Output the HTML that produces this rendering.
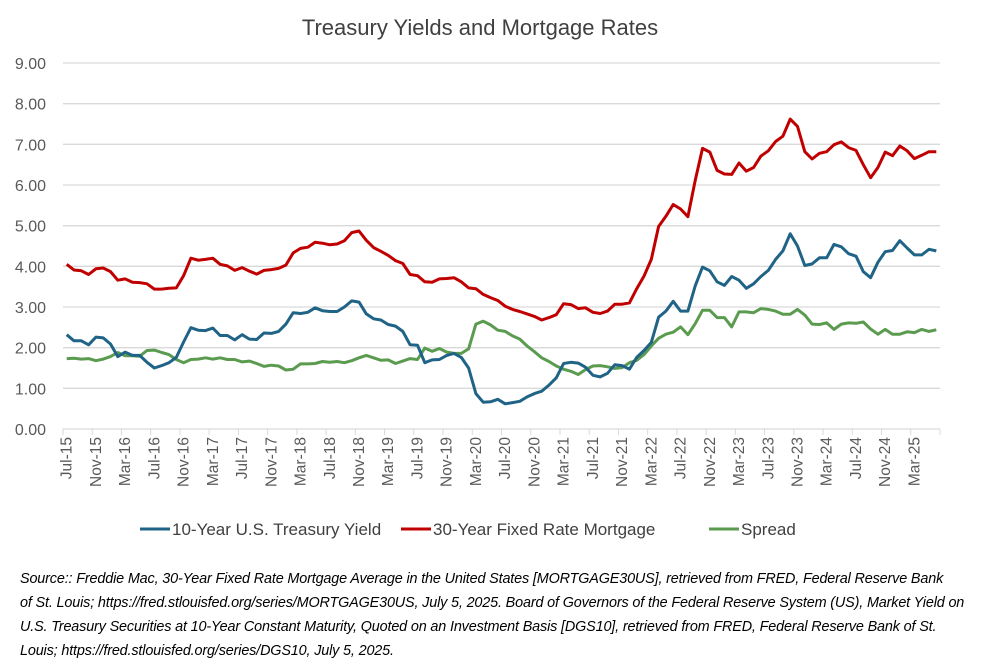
<!DOCTYPE html>
<html><head><meta charset="utf-8">
<style>
body{margin:0;background:#fff;font-family:"Liberation Sans",sans-serif;}
#wrap{position:relative;width:1000px;height:669px;overflow:hidden;}
.src{position:absolute;left:20px;top:567px;width:980px;font-style:italic;font-size:14.4px;letter-spacing:-0.15px;line-height:24px;color:#000;white-space:nowrap;}
</style></head>
<body>
<div id="wrap">
<svg id="chart" width="1000" height="560"></svg>
<div class="src">Source:: Freddie Mac, 30-Year Fixed Rate Mortgage Average in the United States [MORTGAGE30US], retrieved from FRED, Federal Reserve Bank<br>of St. Louis; https://fred.stlouisfed.org/series/MORTGAGE30US, July 5, 2025. Board of Governors of the Federal Reserve System (US), Market Yield on<br>U.S. Treasury Securities at 10-Year Constant Maturity, Quoted on an Investment Basis [DGS10], retrieved from FRED, Federal Reserve Bank of St.<br>Louis; https://fred.stlouisfed.org/series/DGS10, July 5, 2025.</div>
</div>
<script>
const startYear = 2015, startMonth = 6; // Jul-15
const treasury = [2.32,2.17,2.17,2.07,2.26,2.24,
2.09,1.78,1.89,1.81,1.81,1.64,1.50,1.56,1.63,1.76,2.14,2.49,
2.43,2.42,2.48,2.30,2.30,2.19,2.32,2.21,2.20,2.36,2.35,2.40,
2.58,2.86,2.84,2.87,2.98,2.91,2.89,2.89,3.00,3.15,3.12,2.83,
2.71,2.68,2.57,2.53,2.40,2.07,2.06,1.63,1.70,1.71,1.81,1.86,
1.76,1.50,0.87,0.66,0.67,0.73,0.62,0.65,0.68,0.79,0.87,0.93,
1.08,1.26,1.61,1.64,1.62,1.52,1.32,1.28,1.37,1.58,1.56,1.47,
1.76,1.93,2.13,2.75,2.90,3.14,2.90,2.90,3.52,3.98,3.89,3.62,
3.53,3.75,3.66,3.46,3.57,3.75,3.90,4.17,4.38,4.80,4.50,4.02,
4.06,4.21,4.21,4.54,4.48,4.31,4.25,3.87,3.72,4.10,4.36,4.39,
4.63,4.45,4.28,4.28,4.42,4.38];
const mortgage = [4.05,3.91,3.89,3.80,3.94,3.96,
3.87,3.66,3.69,3.61,3.60,3.57,3.44,3.44,3.46,3.47,3.77,4.20,
4.15,4.17,4.20,4.05,4.01,3.90,3.97,3.88,3.81,3.90,3.92,3.95,
4.03,4.33,4.44,4.47,4.59,4.57,4.53,4.55,4.63,4.83,4.87,4.64,
4.46,4.37,4.27,4.14,4.07,3.80,3.77,3.62,3.61,3.69,3.70,3.72,
3.62,3.47,3.45,3.31,3.23,3.16,3.02,2.94,2.89,2.83,2.77,2.68,
2.74,2.81,3.08,3.06,2.96,2.98,2.87,2.84,2.90,3.07,3.07,3.10,
3.45,3.76,4.17,4.98,5.23,5.52,5.41,5.22,6.11,6.90,6.81,6.36,
6.27,6.26,6.54,6.34,6.43,6.71,6.84,7.07,7.20,7.62,7.44,6.82,
6.64,6.78,6.82,6.99,7.06,6.92,6.85,6.50,6.18,6.43,6.81,6.72,
6.96,6.84,6.65,6.73,6.82,6.82];
const spread = [1.73,1.74,1.72,1.73,1.68,1.72,
1.78,1.88,1.80,1.80,1.79,1.93,1.94,1.88,1.83,1.71,1.63,1.71,
1.72,1.75,1.72,1.75,1.71,1.71,1.65,1.67,1.61,1.54,1.57,1.55,
1.45,1.47,1.60,1.60,1.61,1.66,1.64,1.66,1.63,1.68,1.75,1.81,
1.75,1.69,1.70,1.61,1.67,1.73,1.71,1.99,1.91,1.98,1.89,1.86,
1.86,1.97,2.58,2.65,2.56,2.43,2.40,2.29,2.21,2.04,1.90,1.75,
1.66,1.55,1.47,1.42,1.34,1.46,1.55,1.56,1.53,1.49,1.51,1.63,
1.69,1.83,2.04,2.23,2.33,2.38,2.51,2.32,2.59,2.92,2.92,2.74,
2.74,2.51,2.88,2.88,2.86,2.96,2.94,2.90,2.82,2.82,2.94,2.80,
2.58,2.57,2.61,2.45,2.58,2.61,2.60,2.63,2.46,2.33,2.45,2.33,
2.33,2.39,2.37,2.45,2.40,2.44];
const yTicks = [0,1,2,3,4,5,6,7,8,9];
const monthNames = ["Jan","Feb","Mar","Apr","May","Jun","Jul","Aug","Sep","Oct","Nov","Dec"];

const NS="http://www.w3.org/2000/svg";
const svg=document.getElementById('chart');
const X0=63,X1=940,Y0=429,Y9=63,YMAX=9;
const n=treasury.length;
const cw=(X1-X0)/n;
const xPos=i=>X0+(i+0.5)*cw;
const yPos=v=>Y0-(v/YMAX)*(Y0-Y9);
function mk(tag,attrs){const e=document.createElementNS(NS,tag);for(const k in attrs)e.setAttribute(k,attrs[k]);svg.appendChild(e);return e;}

let t=mk('text',{x:480,y:35,'text-anchor':'middle','font-size':'22','fill':'#404040'});
t.textContent='Treasury Yields and Mortgage Rates';



yTicks.forEach(v=>{
  const y=yPos(v);
  const g=mk('line',{x1:X0,x2:X1,y1:y,y2:y,stroke:'#d9d9d9','stroke-width':1.3});
  
  
  const l=mk('text',{x:46,y:y+6,'text-anchor':'end','font-size':'16','fill':'#595959'});
  l.textContent=v.toFixed(2);
  
  
});
for(let i=0;i<=n;i+=4){
  const x=X0+i*cw;
  const tk=mk('line',{x1:x,x2:x,y1:Y0,y2:Y0+6,stroke:'#d9d9d9','stroke-width':1});
  
  
}
for(let i=0;i<n;i+=4){
  const m=(startMonth+i)%12, yr=startYear+Math.floor((startMonth+i)/12);
  const x=xPos(i)+5, y=437;
  const l=mk('text',{x:x,y:y,'text-anchor':'end','font-size':'15.5','fill':'#595959',transform:`rotate(-90 ${x} ${y})`});
  l.textContent=monthNames[m]+'-'+String(yr%100).padStart(2,'0');
  
  
}
function series(arr,color,name){
  const d=arr.map((v,i)=>(i?'L':'M')+xPos(i).toFixed(1)+' '+yPos(v).toFixed(1)).join(' ');
  const p=mk('path',{d:d,fill:'none',stroke:color,'stroke-width':3,'stroke-linejoin':'round'});
  
  
}
series(spread,'#5b9b4f','spread-line');
series(treasury,'#1f6386','treasury-yield-line');
series(mortgage,'#c00000','mortgage-rate-line');

const legend=[['10-Year U.S. Treasury Yield','#1f6386',140],['30-Year Fixed Rate Mortgage','#c00000',401],['Spread','#5b9b4f',709]];
legend.forEach(([lab,c,x])=>{
  const ln=mk('line',{x1:x,x2:x+30,y1:529,y2:529,stroke:c,'stroke-width':3});
  
  
  const tx=mk('text',{x:x+32,y:535,'font-size':'17','fill':'#404040'});
  tx.textContent=lab;
  
  
});
</script>
</body></html>
